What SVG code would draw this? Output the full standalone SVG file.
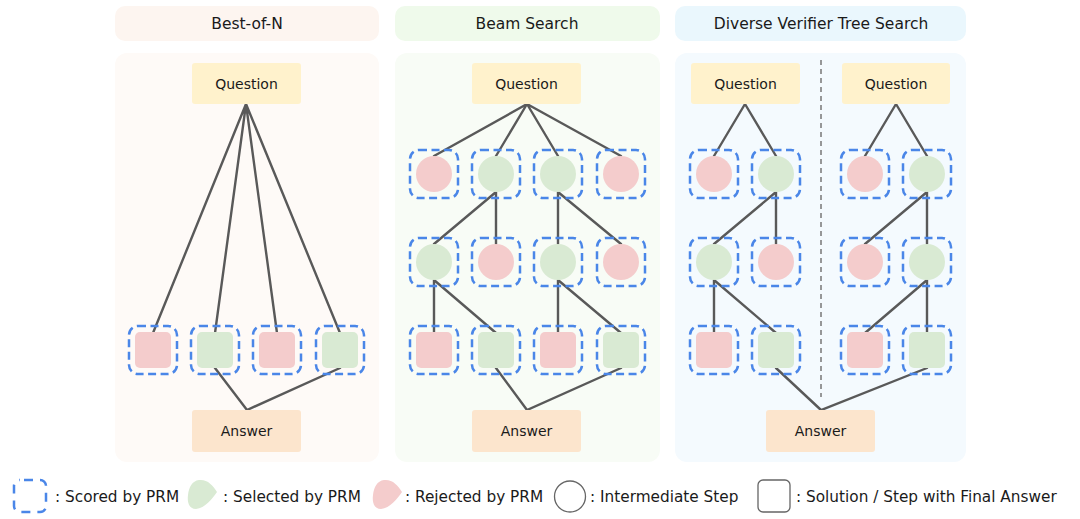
<svg xmlns="http://www.w3.org/2000/svg" width="1080" height="519" viewBox="0 0 1080 519">
<defs>
<style>
text{font-family:"DejaVu Sans","Liberation Sans",sans-serif;fill:#1a1a1a}
.title{font-size:15.5px;text-anchor:middle}
.lbl{font-size:14px;text-anchor:middle}
.leg{font-size:15.3px}
.q{fill:#fff2cc}
.a{fill:#fce5cd}
.score{fill:none;stroke:#4a86e8;stroke-width:2.5;stroke-dasharray:8 4.5}
.red{fill:#f4cccc}
.green{fill:#d9ead3}
.edge{stroke:#595959;stroke-width:2.4;fill:none;stroke-linecap:round}
</style>
</defs>
<rect width="1080" height="519" fill="#ffffff"/>

<!-- panels -->
<g id="panel-bon">
<rect x="115" y="6" width="264" height="35" rx="10" fill="#fdf5f0"/>
<text class="title" x="247" y="29">Best-of-N</text>
<rect x="115" y="53" width="264" height="409" rx="12" fill="#fefaf7"/>
</g>
<g id="panel-beam">
<rect x="395" y="6" width="265" height="35" rx="10" fill="#effaeb"/>
<text class="title" x="527" y="29">Beam Search</text>
<rect x="395" y="53" width="265" height="409" rx="12" fill="#f8fcf6"/>
</g>
<g id="panel-dvts">
<rect x="675" y="6" width="291" height="35" rx="10" fill="#eaf7fd"/>
<text class="title" x="821" y="29">Diverse Verifier Tree Search</text>
<rect x="675" y="53" width="291" height="409" rx="12" fill="#f4fafe"/>
<line x1="821" y1="60" x2="821" y2="397" stroke="#777" stroke-width="1.5" stroke-dasharray="5 4"/>
</g>

<!-- connectors -->
<g id="connectors">
<!-- Best-of-N -->
<path class="edge" d="M246 104 L153 333 M246 104 L215 333 M246 104 L277 333 M246 104 L340 333"/>
<path class="edge" d="M215 368 L247 410 L340 368"/>
<!-- Beam -->
<path class="edge" d="M527 104 L434 156 M527 104 L496 156 M527 104 L558 156 M527 104 L621 156"/>
<path class="edge" d="M496 192 L434 244 M496 192 L496 244 M558 192 L558 244 M558 192 L621 244"/>
<path class="edge" d="M434 280 L434 333 M434 280 L496 333 M558 280 L558 333 M558 280 L621 333"/>
<path class="edge" d="M496 368 L527 410 L621 368"/>
<!-- DVTS -->
<path class="edge" d="M745 104 L714 156 M745 104 L776 156 M896 104 L865 156 M896 104 L927 156"/>
<path class="edge" d="M776 192 L714 244 M776 192 L776 244 M927 192 L865 244 M927 192 L927 244"/>
<path class="edge" d="M714 280 L714 333 M714 280 L776 333 M927 280 L865 333 M927 280 L927 333"/>
<path class="edge" d="M776 368 L821 410 L927 368"/>
</g>

<!-- Best-of-N nodes -->
<g id="bon-question"><rect class="q" x="192" y="63" width="109" height="41" rx="3"/><text class="lbl" x="246.5" y="89">Question</text></g>
<g id="bon-answer"><rect class="a" x="192" y="410" width="109" height="42" rx="3"/><text class="lbl" x="246.5" y="436">Answer</text></g>
<g id="bon-s1"><rect class="red" x="135" y="332" width="36" height="36" rx="5"/><rect class="score" x="129" y="326" width="48" height="48" rx="9"/></g>
<g id="bon-s2"><rect class="green" x="197" y="332" width="36" height="36" rx="5"/><rect class="score" x="191" y="326" width="48" height="48" rx="9"/></g>
<g id="bon-s3"><rect class="red" x="259" y="332" width="36" height="36" rx="5"/><rect class="score" x="253" y="326" width="48" height="48" rx="9"/></g>
<g id="bon-s4"><rect class="green" x="322" y="332" width="36" height="36" rx="5"/><rect class="score" x="316" y="326" width="48" height="48" rx="9"/></g>

<!-- Beam nodes -->
<g id="beam-question"><rect class="q" x="472" y="63" width="109" height="41" rx="3"/><text class="lbl" x="526.5" y="89">Question</text></g>
<g id="beam-answer"><rect class="a" x="472" y="410" width="109" height="42" rx="3"/><text class="lbl" x="526.5" y="436">Answer</text></g>
<g id="beam-r1-1"><circle class="red" cx="434" cy="174" r="18"/><rect class="score" x="410" y="150" width="48" height="48" rx="9"/></g>
<g id="beam-r1-2"><circle class="green" cx="496" cy="174" r="18"/><rect class="score" x="472" y="150" width="48" height="48" rx="9"/></g>
<g id="beam-r1-3"><circle class="green" cx="558" cy="174" r="18"/><rect class="score" x="534" y="150" width="48" height="48" rx="9"/></g>
<g id="beam-r1-4"><circle class="red" cx="621" cy="174" r="18"/><rect class="score" x="597" y="150" width="48" height="48" rx="9"/></g>
<g id="beam-r2-1"><circle class="green" cx="434" cy="262" r="18"/><rect class="score" x="410" y="238" width="48" height="48" rx="9"/></g>
<g id="beam-r2-2"><circle class="red" cx="496" cy="262" r="18"/><rect class="score" x="472" y="238" width="48" height="48" rx="9"/></g>
<g id="beam-r2-3"><circle class="green" cx="558" cy="262" r="18"/><rect class="score" x="534" y="238" width="48" height="48" rx="9"/></g>
<g id="beam-r2-4"><circle class="red" cx="621" cy="262" r="18"/><rect class="score" x="597" y="238" width="48" height="48" rx="9"/></g>
<g id="beam-s1"><rect class="red" x="416" y="332" width="36" height="36" rx="5"/><rect class="score" x="410" y="326" width="48" height="48" rx="9"/></g>
<g id="beam-s2"><rect class="green" x="478" y="332" width="36" height="36" rx="5"/><rect class="score" x="472" y="326" width="48" height="48" rx="9"/></g>
<g id="beam-s3"><rect class="red" x="540" y="332" width="36" height="36" rx="5"/><rect class="score" x="534" y="326" width="48" height="48" rx="9"/></g>
<g id="beam-s4"><rect class="green" x="603" y="332" width="36" height="36" rx="5"/><rect class="score" x="597" y="326" width="48" height="48" rx="9"/></g>

<!-- DVTS nodes -->
<g id="dvts-question-1"><rect class="q" x="691" y="63" width="109" height="41" rx="3"/><text class="lbl" x="745.5" y="89">Question</text></g>
<g id="dvts-question-2"><rect class="q" x="842" y="63" width="108" height="41" rx="3"/><text class="lbl" x="896" y="89">Question</text></g>
<g id="dvts-answer"><rect class="a" x="766" y="410" width="109" height="42" rx="3"/><text class="lbl" x="820.5" y="436">Answer</text></g>
<g id="dvts-r1-1"><circle class="red" cx="714" cy="174" r="18"/><rect class="score" x="690" y="150" width="48" height="48" rx="9"/></g>
<g id="dvts-r1-2"><circle class="green" cx="776" cy="174" r="18"/><rect class="score" x="752" y="150" width="48" height="48" rx="9"/></g>
<g id="dvts-r1-3"><circle class="red" cx="865" cy="174" r="18"/><rect class="score" x="841" y="150" width="48" height="48" rx="9"/></g>
<g id="dvts-r1-4"><circle class="green" cx="927" cy="174" r="18"/><rect class="score" x="903" y="150" width="48" height="48" rx="9"/></g>
<g id="dvts-r2-1"><circle class="green" cx="714" cy="262" r="18"/><rect class="score" x="690" y="238" width="48" height="48" rx="9"/></g>
<g id="dvts-r2-2"><circle class="red" cx="776" cy="262" r="18"/><rect class="score" x="752" y="238" width="48" height="48" rx="9"/></g>
<g id="dvts-r2-3"><circle class="red" cx="865" cy="262" r="18"/><rect class="score" x="841" y="238" width="48" height="48" rx="9"/></g>
<g id="dvts-r2-4"><circle class="green" cx="927" cy="262" r="18"/><rect class="score" x="903" y="238" width="48" height="48" rx="9"/></g>
<g id="dvts-s1"><rect class="red" x="696" y="332" width="36" height="36" rx="5"/><rect class="score" x="690" y="326" width="48" height="48" rx="9"/></g>
<g id="dvts-s2"><rect class="green" x="758" y="332" width="36" height="36" rx="5"/><rect class="score" x="752" y="326" width="48" height="48" rx="9"/></g>
<g id="dvts-s3"><rect class="red" x="847" y="332" width="36" height="36" rx="5"/><rect class="score" x="841" y="326" width="48" height="48" rx="9"/></g>
<g id="dvts-s4"><rect class="green" x="909" y="332" width="36" height="36" rx="5"/><rect class="score" x="903" y="326" width="48" height="48" rx="9"/></g>

<!-- legend -->
<g id="legend">
<rect x="14" y="480" width="32" height="32" rx="6" fill="none" stroke="#4a86e8" stroke-width="2.5" stroke-dasharray="9 7" stroke-dashoffset="-4"/>
<text class="leg" x="55" y="502">: Scored by PRM</text>
<path class="green" d="M199 480 C207 479 213 485 217 492 C212 499 205 508 196 509 C189 509 187 502 188 495 C189 487 192 481 199 480 Z"/>
<text class="leg" x="223" y="502">: Selected by PRM</text>
<path class="red" d="M384 480 C392 479 398 485 402 492 C397 499 390 508 381 509 C374 509 372 502 373 495 C374 487 377 481 384 480 Z"/>
<text class="leg" x="405" y="502">: Rejected by PRM</text>
<circle cx="570" cy="496.5" r="15.5" fill="#fff" stroke="#666" stroke-width="1.3"/>
<text class="leg" x="590" y="502">: Intermediate Step</text>
<rect x="758" y="480" width="32" height="32" rx="5" fill="#fff" stroke="#666" stroke-width="1.3"/>
<text class="leg" x="796" y="502">: Solution / Step with Final Answer</text>
</g>
</svg>
